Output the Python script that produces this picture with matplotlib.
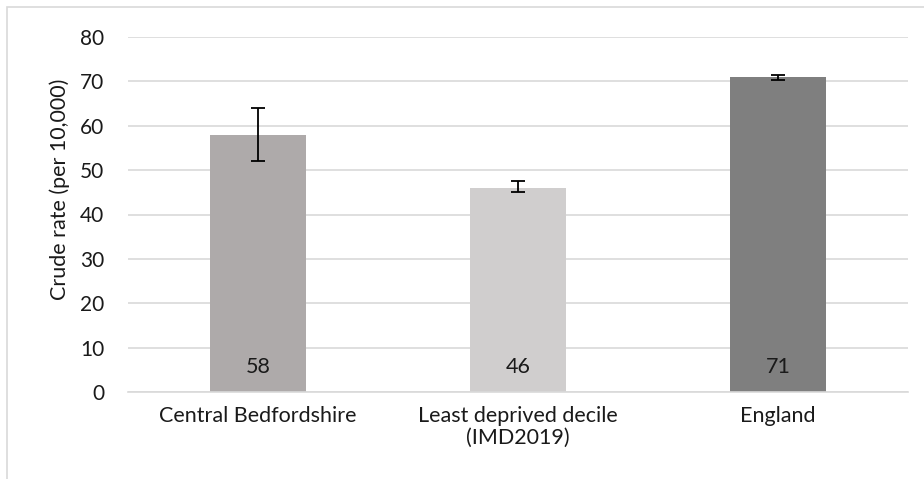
import matplotlib.pyplot as plt
from matplotlib.patches import Rectangle

categories = ['Central Bedfordshire', 'Least deprived decile\n(IMD2019)', 'England']
rates = [58, 46, 71]
ci_low = [52, 45, 70.4]
ci_high = [64, 47.5, 71.5]
colors = ['#AEAAAA', '#D0CECE', '#7F7F7F']

plt.rcParams['font.family'] = ['Lato', 'DejaVu Sans']

fig = plt.figure(figsize=(9.24, 4.79), dpi=100)
ax = fig.add_axes([128 / 924, 1 - 392 / 479, 780 / 924, 355 / 479])

x = list(range(len(categories)))
err = [[r - lo for r, lo in zip(rates, ci_low)],
       [hi - r for r, hi in zip(rates, ci_high)]]
ax.bar(x, rates, width=0.37, color=colors, zorder=2)
ax.errorbar(x, rates, yerr=err, fmt='none', ecolor='black',
            elinewidth=1.3, capsize=5, capthick=1.3, zorder=3)

for xi, r in zip(x, rates):
    ax.text(xi, 5.6, f'{r}', ha='center', va='center', fontsize=15.5, color='#1a1a1a', zorder=4)

ax.set_xlim(-0.5, 2.5)
ax.set_ylim(0, 80)
ax.set_yticks(range(0, 81, 10))
ax.set_xticks(x)
ax.set_xticklabels(categories, fontsize=15.5, color='#1a1a1a', multialignment='center',
                   linespacing=1.1)
ax.tick_params(axis='y', labelsize=15, length=0, pad=17, labelcolor='#1a1a1a')
ax.tick_params(axis='x', length=0, pad=10)
ax.grid(axis='y', color='#D9D9D9', linewidth=1.2, zorder=1)
for s in ['top', 'right', 'left']:
    ax.spines[s].set_visible(False)
ax.spines['bottom'].set_color('#D9D9D9')
ax.spines['bottom'].set_linewidth(1.2)
ax.set_ylabel('Crude rate (per 10,000)', fontsize=15.5, color='#1a1a1a')
ax.yaxis.set_label_coords(-0.074, 0.572)

# outer chart border
fig.patches.append(Rectangle((7 / 924, -0.1), 1.2, 1 - 7 / 479 + 0.1, transform=fig.transFigure,
                             fill=False, edgecolor='#D9D9D9', linewidth=1.2))

fig.savefig('out.png', dpi=100)
